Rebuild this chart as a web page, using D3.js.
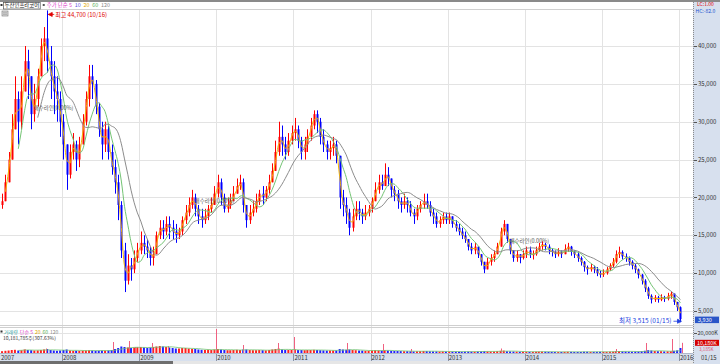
<!DOCTYPE html>
<html><head><meta charset="utf-8">
<script src="https://cdn.jsdelivr.net/npm/d3@7"></script>
<style>body{margin:0;background:#fff}svg{display:block}text{font-family:"Noto Sans CJK KR","DejaVu Sans",sans-serif}</style>
</head><body><svg id="c" width="720" height="364"></svg>
<script>
// Half-month periods from the 2nd half of March 2007 to the 1st half of January 2016 (values in thousand KRW)
const closes = [
 19.5,22,25,29,33,30,34,38,36,31,33,36,40,41,38,36,34,33,30,                       // 2007 (from Mar b)
 27,23,26,27,25,27,30,33,36,35,32,29,27,29,26,24,22,19,13,9,11,10.5,12,13,         // 2008
 14,13.5,13,12,12.5,15,16,15.5,16.5,16,15.5,15,15.5,17,18,19,20,18.5,17.5,17,17.5,18.5,19,20.5, // 2009
 22,20,18.5,19,19.5,20.5,21.5,22,19,17,18,18.5,19.5,20.5,20,21,22,23.5,26,28,27,26,27.5,28.5,   // 2010
 29,27.5,26,27,28,29.5,31,30,28,27,26,26.5,27,25.5,20,19,18,16,17.5,18.5,18,17.5,18,18.5,       // 2011
 19.5,21,22,21.5,23,22.5,21,20.5,19.5,19,19.5,19,18,17.5,18.5,19,19.5,19,18,17.5,16.5,17,17.5,17, // 2012
 17.5,16.5,16,15.5,15,14.5,13.5,13,13.5,12.5,11.5,10.5,11.5,12,12.5,13.5,15.5,16.5,14.5,13,12,12.5,12,12.5, // 2013
 13,12.5,12.5,13,13.5,13.8,13.5,13,12.8,12.5,12.8,12.5,13.2,13.5,12.8,12.5,12,11.5,10.8,10.5,10.8,10.5,10,9.8, // 2014
 10,10.5,11,11.5,12.5,12.8,12.2,12,11.5,11,10.5,9.8,9,8,7,6.5,6.8,6.5,6.8,6.6,7,7.3,6.2,5.5,    // 2015
 3.93                                                                                 // 2016 Jan a
];
const highs = [
 20.5,23,26,31,36,34,36,40,39.5,36,35,37,41,42.5,44.7,40,38,36,34,
 31,27,27,28.5,27.5,28,31,34,37.5,37.5,35.5,32.5,30,30,29.5,27,25,23,19.5,14,12.5,12,13,14,
 15.5,15,14.5,13.5,13.5,15.5,17,17,17.5,17.5,17,16.5,16,17.5,19,20,21,20.5,19,18.5,18.5,19,20,21.5,
 23,22.5,20.5,20,20.5,21.5,22.5,23,22.5,19,19,19.5,20.5,21,21.5,21.5,23,24.5,27.5,30,29.5,28,28.5,29.5,
 30.5,29.5,28,28,29,30.5,31.5,31.5,30.5,29,27.5,27.5,28,27.5,25.5,21,20,18.5,18.5,19.5,19.5,18.5,19,19,
 20,22,23,23,24.5,24,22.5,21.5,21,20,20.5,20,19.5,18.5,19,19.5,20.5,20.5,19.5,18.5,18,17.5,18,18,
 18,17.5,17,16.5,16,15.5,14.5,14,14,13.5,12.5,11.5,12,12.5,13,14,16,17,16,14.5,13,13,12.5,13,
 13.5,13.5,13,13.5,14,14.2,14,13.8,13.3,13,13.3,13,13.8,14,13.6,13,12.8,12.2,11.6,11,11.2,11,10.8,10.3,
 10.5,10.8,11.3,12,13,13.5,13,12.6,12.2,11.7,11.2,10.6,9.9,9.2,8.2,7.2,7.1,7,7.2,7,7.4,7.6,7.2,6.2,
 5.6
];
const lows = [
 18.5,19.5,22,25,29,27,29,34,33,29,30,32,36,38,36.5,33,31,30,28,
 25,21,22.5,25,23.5,24,27,29.5,32,33,31,28,25,26,25,23,20.5,17,12,7.5,8.5,9,10,11.5,
 12.5,12.5,12,11,11,12.5,14.5,14.5,15,14.5,14.5,14,14.5,15,16.5,17.5,18.5,17.5,16.5,16,16.5,17,18,19,
 20,19,18,18,18.5,19.5,20.5,21,18,16,16.5,17.5,18,19,19,19.5,20.5,22,23.5,25.5,25.5,25,25.5,27,
 27.5,26.5,25,25,26,27.5,29,28.5,27,26,25,25,25.5,24.5,18.5,17.5,16.5,15,15.5,17,17,16.5,17,17.5,
 18,19.5,20.5,21,21.5,21.5,20,19.5,18.5,18,18.5,18,17.5,16.5,17,18,18.5,18.5,17.5,16.5,16,16,16.5,16.5,
 16.5,16,15.5,15,14.5,14,13,12.5,12.5,12,11,10,10.5,11,11.5,12.5,13.5,15,14,12.5,11.5,11.5,11.3,11.8,
 12,12,11.8,12.3,12.8,13,13,12.5,12.2,12,12.2,12,12.5,12.8,12.3,12,11.5,11,10.2,9.8,10.2,10,9.6,9.4,
 9.5,9.8,10.3,10.8,11.3,12,11.8,11.5,11,10.5,10,9.3,8.5,7.5,6.6,6,6.2,6.1,6.3,6.2,6.4,6.6,5.8,5,
 3.515
];
const firstOpen = 19.0;
// average daily volume per half-month, millions of shares
const volumes = [
 1.8,2.2,2.5,3,3.2,2.5,2.8,3.5,3,2.8,2.5,2.6,3,3.5,4,3,2.5,2.2,2.5,
 3,3.5,2.5,2.2,2.3,2.2,2.4,2.5,2.8,2.5,2.2,2.3,2.5,2.4,2.6,3,4,5,6.5,6,5.5,5,5.5,5.8,
 6,5.5,5,5.5,6,6.5,7,6.5,6,5.5,5,4.5,4.5,5,5,4.5,4,4,3.5,3.2,3,3.2,3,3.5,
 4,3.5,3,2.8,2.8,3,3.2,3,3.5,3.5,3,2.8,2.8,3,2.8,2.6,3,3.5,4,4.5,3.5,3,3,3,
 3.5,3,3,2.8,3,3,3.2,3,2.8,2.6,2.4,2.5,2.5,2.6,4,3.5,3.2,3.5,3,2.8,2.5,2.4,2.2,2.2,
 2.5,2.8,2.6,2.4,2.8,2.5,2.2,2,2,1.9,1.8,1.8,1.7,1.6,1.7,1.8,2,1.9,1.7,1.6,1.6,1.5,1.6,1.5,
 1.5,1.4,1.4,1.3,1.3,1.4,1.5,1.4,1.4,1.5,1.6,1.8,1.6,1.5,1.5,1.8,2.2,2.4,1.8,1.6,1.5,1.4,1.3,1.3,
 1.3,1.2,1.2,1.3,1.4,1.4,1.3,1.2,1.2,1.1,1.1,1.1,1.2,1.3,1.2,1.1,1.1,1.1,1.3,1.3,1.2,1.2,1.2,1.2,
 1.2,1.2,1.3,1.4,1.8,2,1.6,1.5,1.4,1.3,1.4,1.5,1.8,2.2,2.8,2.5,2,1.8,1.8,1.6,1.7,1.8,2.2,2.6,
 5
];
const volSpikes = [
 ["2007-07-10",3.5],["2007-10-16",4.5],["2008-08-28",11],["2008-11-14",12],["2008-12-10",6],
 ["2009-03-03",10],["2009-05-15",7],["2009-12-29",24],["2010-05-08",8],["2010-10-19",10],
 ["2011-01-05",16],["2011-09-11",10],["2012-02-29",9],["2012-07-10",4],["2013-09-10",4.5],
 ["2015-03-10",4],["2015-07-28",10],["2015-11-27",14],["2016-01-15",10.18]
];
const priceTicks = [5000,10000,15000,20000,25000,30000,35000,40000];
const yearLabels = ["2007","2008","2009","2010","2011","2012","2013","2014","2015","2016"];
const maWindows = [2,6,12];          // 20, 60, 120 trading days in half-month periods
const maColors = ["#f2b400","#74c474","#8c8c8c"];
const annotations = [["2007-08-20",31500],["2009-09-20",19300],["2013-10-20",14000]];
const priceLegend = [["주가 단순 5","#e040c8"],["10","#6050e0"],["20","#e0a800"],["60","#58b058"],["120","#888"]];
const volLegend = [["거래량","#30a0a0"],["단순 5","#e040c8"],["20","#e0a800"],["60","#58b058"],["120","#888"]];

const svg = d3.select("#c");
const plotR = 693;
const x = d3.scaleTime().domain([new Date(2008,0,1), new Date(2016,0,1)]).range([62,679]);
const y = d3.scaleLinear().domain([5000,40000]).range([311,46]);
const yv = d3.scaleLinear().domain([0,20]).range([353,333]);
const fmt = d3.format(",");

const dates = closes.map((_,i)=>{const h=i+1;return new Date(2007,2+Math.floor(h/2),h%2?23:8);});
const data = closes.map((c,i)=>{
  const o = i===0?firstOpen:closes[i-1];
  return {d:dates[i],o:o*1000,c:c*1000,h:Math.max(highs[i],o,c)*1000,l:Math.min(lows[i],o,c)*1000,v:volumes[i]};
});

// backgrounds
svg.append("rect").attr("x",plotR).attr("y",2).attr("width",720-plotR).attr("height",362).attr("fill","#d7e0ee");
svg.append("rect").attr("x",0).attr("y",353).attr("width",plotR).attr("height",8).attr("fill","#d7e0ee");
svg.append("line").attr("x1",0).attr("x2",720).attr("y1",1).attr("y2",1).attr("stroke","#8a8a8a").attr("stroke-width",2);
svg.append("line").attr("x1",0).attr("x2",plotR).attr("y1",9.5).attr("y2",9.5).attr("stroke","#d0d0d0");
svg.append("rect").attr("x",0).attr("y",361).attr("width",173).attr("height",3).attr("fill","#6e6e6e");
svg.append("rect").attr("x",173).attr("y",361).attr("width",plotR-173).attr("height",3).attr("fill","#e6e6e6");

// grid
const yearDates = yearLabels.slice(1).map(s=>new Date(+s,0,1));
svg.append("g").selectAll("line").data(priceTicks).join("line")
  .attr("x1",0).attr("x2",plotR).attr("y1",d=>Math.round(y(d))+0.5).attr("y2",d=>Math.round(y(d))+0.5)
  .attr("stroke","#e3e3e3");
svg.append("g").selectAll("line").data(yearDates).join("line")
  .attr("x1",d=>Math.round(x(d))+0.5).attr("x2",d=>Math.round(x(d))+0.5).attr("y1",10).attr("y2",353)
  .attr("stroke","#e3e3e3");
svg.append("line").attr("x1",0).attr("x2",plotR).attr("y1",325.5).attr("y2",325.5).attr("stroke","#cfcfcf");
svg.append("line").attr("x1",0).attr("x2",plotR).attr("y1",327.5).attr("y2",327.5).attr("stroke","#cfcfcf");
svg.append("line").attr("x1",0).attr("x2",plotR).attr("y1",Math.round(yv(20))+0.5).attr("y2",Math.round(yv(20))+0.5).attr("stroke","#e3e3e3");
svg.append("line").attr("x1",plotR+0.5).attr("x2",plotR+0.5).attr("y1",2).attr("y2",364).attr("stroke","#8a8a8a").attr("stroke-dasharray","1,1");
svg.append("line").attr("x1",0).attr("x2",plotR).attr("y1",353.5).attr("y2",353.5).attr("stroke","#b0b8c8");

// clips
const defs = svg.append("defs");
defs.append("clipPath").attr("id","pc").append("rect").attr("x",0).attr("y",10).attr("width",plotR).attr("height",315);
defs.append("clipPath").attr("id","vc").append("rect").attr("x",0).attr("y",328).attr("width",plotR).attr("height",25);

// volume
const gv = svg.append("g").attr("clip-path","url(#vc)");
gv.selectAll("rect.v").data(data).join("rect").attr("class","v")
  .attr("x",d=>x(d.d)-1).attr("width",2)
  .attr("y",d=>yv(d.v)).attr("height",d=>yv(0)-yv(d.v))
  .attr("fill",d=>d.c>=d.o?"#ff2020":"#2020ff");
gv.selectAll("line.s").data(volSpikes).join("line").attr("class","s")
  .attr("x1",d=>Math.round(x(new Date(d[0])))+0.5).attr("x2",d=>Math.round(x(new Date(d[0])))+0.5)
  .attr("y1",yv(0)).attr("y2",d=>yv(d[1])).attr("stroke","#f06080");
const vma = (w)=>data.map((d,i)=>i<w-1?null:{d:d.d,v:d3.mean(data.slice(i-w+1,i+1),e=>e.v)}).filter(Boolean);
gv.append("path").datum(vma(6)).attr("fill","none").attr("stroke","#74c474").attr("stroke-width",0.8)
  .attr("d",d3.line().x(d=>x(d.d)).y(d=>yv(d.v)));

// price
const gp = svg.append("g").attr("clip-path","url(#pc)");
gp.selectAll("line.w").data(data).join("line").attr("class","w")
  .attr("x1",d=>Math.round(x(d.d))+0.5).attr("x2",d=>Math.round(x(d.d))+0.5)
  .attr("y1",d=>y(d.h)).attr("y2",d=>y(d.l))
  .attr("stroke",d=>d.c>=d.o?"#ff0000":"#0000ff");
gp.selectAll("rect.b").data(data).join("rect").attr("class","b")
  .attr("x",d=>Math.round(x(d.d))-0.5).attr("width",2)
  .attr("y",d=>y(Math.max(d.o,d.c))).attr("height",d=>Math.max(1,Math.abs(y(d.o)-y(d.c))))
  .attr("fill",d=>d.c>=d.o?"#ff0000":"#0000ff");
maWindows.forEach((w,k)=>{
  const pts = data.map((d,i)=>i<w-1?null:{d:d.d,v:d3.mean(data.slice(i-w+1,i+1),e=>e.c)}).filter(Boolean);
  gp.append("path").datum(pts).attr("fill","none").attr("stroke",maColors[k]).attr("stroke-width",1)
    .attr("d",d3.line().curve(d3.curveMonotoneX).x(d=>x(d.d)).y(d=>y(d.v)));
});

// annotations
svg.append("g").selectAll("text").data(annotations).join("text")
  .attr("x",d=>x(new Date(d[0]))).attr("y",d=>y(d[1])).attr("font-size",5.5).attr("fill","#555")
  .text("매수라인(0.00%)");

// max / min labels
const iMax = d3.maxIndex(data,d=>d.h), iMin = d3.minIndex(data,d=>d.l);
const mx = x(data[iMax].d), my = y(data[iMax].h)+4;
svg.append("path").attr("d",`M${mx+1},${my}l4,-2v4z M${mx+4},${my}h3`).attr("fill","#e00000").attr("stroke","#e00000").attr("stroke-width",0.8);
svg.append("text").attr("x",mx+8).attr("y",my+2.2).attr("font-size",6).attr("fill","#e00000")
  .text("최고 "+fmt(data[iMax].h)+" (10/16)");
const nx = x(data[iMin].d)+1, ny = y(data[iMin].l)-1;
svg.append("path").attr("d",`M${nx},${ny}l-4,-2v4z M${nx-3},${ny}h-5`).attr("fill","#2040e0").attr("stroke","#2040e0").attr("stroke-width",0.8);
svg.append("text").attr("x",nx-10).attr("y",ny+2).attr("text-anchor","end").attr("font-size",6.5).attr("fill","#2040e0")
  .text("최저 "+fmt(data[iMin].l)+" (01/15)");

// right axis
const ra = svg.append("g");
ra.selectAll("line").data(priceTicks).join("line").attr("x1",694).attr("x2",697)
  .attr("y1",d=>Math.round(y(d))+0.5).attr("y2",d=>Math.round(y(d))+0.5).attr("stroke","#555");
ra.selectAll("text").data(priceTicks).join("text").attr("x",698).attr("y",d=>y(d)+2.2)
  .attr("font-size",6).attr("fill","#333").text(d=>fmt(d));
svg.append("text").attr("x",697).attr("y",6).attr("font-size",5).attr("fill","#e00000").text("LC:1.00");
svg.append("text").attr("x",695.5).attr("y",12.5).attr("font-size",5).attr("fill","#2050d0").text("HC:-82.0");
const last = data[data.length-1];
svg.append("rect").attr("x",695).attr("y",y(last.c)-2.5).attr("width",24).attr("height",6.5).attr("fill","#2a55c8");
svg.append("text").attr("x",698).attr("y",y(last.c)+2.6).attr("font-size",5.5).attr("fill","#fff").text(fmt(Math.round(last.c)));
svg.append("line").attr("x1",694).attr("x2",697).attr("y1",Math.round(yv(20))+0.5).attr("y2",Math.round(yv(20))+0.5).attr("stroke","#555");
svg.append("text").attr("x",697.5).attr("y",yv(20)+2.2).attr("font-size",5.5).attr("fill","#333").text("20,000K");
const lastVol = volSpikes[volSpikes.length-1][1];
svg.append("rect").attr("x",695).attr("y",yv(lastVol)-3).attr("width",24).attr("height",6).attr("fill","#d40000");
svg.append("text").attr("x",697).attr("y",yv(lastVol)+1.8).attr("font-size",5.3).attr("fill","#fff").text(fmt(Math.round(lastVol*1000))+"K");
svg.append("text").attr("x",699).attr("y",yv(lastVol)+8.6).attr("font-size",4.6).attr("fill","#e05070").text("3,185K");

// x axis strip
const xs = svg.append("g");
const yearStarts = [new Date(2007,2,13)].concat(yearDates);
xs.selectAll("line").data(yearDates).join("line")
  .attr("x1",d=>Math.round(x(d))+0.5).attr("x2",d=>Math.round(x(d))+0.5).attr("y1",354).attr("y2",361).attr("stroke","#8a93a6");
xs.selectAll("text").data(yearLabels).join("text")
  .attr("x",(d,i)=>Math.max(0.5,x(yearStarts[i])+1)).attr("y",359.5).attr("font-size",6).attr("fill","#333").text(d=>d);
svg.append("text").attr("x",701).attr("y",359.5).attr("font-size",6).attr("fill","#333").text("01/15");

// headers laid out in sequence
function row(g, items, x0, yy, gap){
  let cx = x0;
  items.forEach(([t,c])=>{
    const el = g.append("text").attr("x",cx).attr("y",yy).attr("fill",c).text(t);
    cx += el.node().getComputedTextLength() + gap;
  });
  return cx;
}
const hd = svg.append("g").attr("font-size",5.4);
hd.append("rect").attr("x",0.5).attr("y",4).attr("width",2).attr("height",2).attr("fill","#333");
const nameEl = hd.append("text").attr("x",4.5).attr("y",7.2).attr("fill","#111").text("두산인프라코어");
const nameW = nameEl.node().getComputedTextLength();
hd.append("rect").attr("x",3.5).attr("y",2.5).attr("width",nameW+2).attr("height",6.5).attr("fill","none").attr("stroke","#555").attr("stroke-width",0.7);
hd.append("rect").attr("x",nameW+8).attr("y",4).attr("width",2).attr("height",2).attr("fill","#555");
row(hd, priceLegend, nameW+12, 7.2, 2.8);
svg.append("rect").attr("x",2).attr("y",11).attr("width",6).attr("height",5).attr("fill","#ddd").attr("stroke","#777").attr("stroke-width",0.6);
svg.append("path").attr("d","M3,12.8h4M3,14.3h4").attr("stroke","#777").attr("stroke-width",0.5);

const vh = svg.append("g").attr("font-size",5);
vh.append("rect").attr("x",0.5).attr("y",330.5).attr("width",2).attr("height",2).attr("fill","#333");
row(vh, volLegend, 4, 333.5, 2);
svg.append("text").attr("x",3).attr("y",340.3).attr("font-size",5).attr("fill","#333").text("10,181,785주(307.63%)");
</script></body></html>
